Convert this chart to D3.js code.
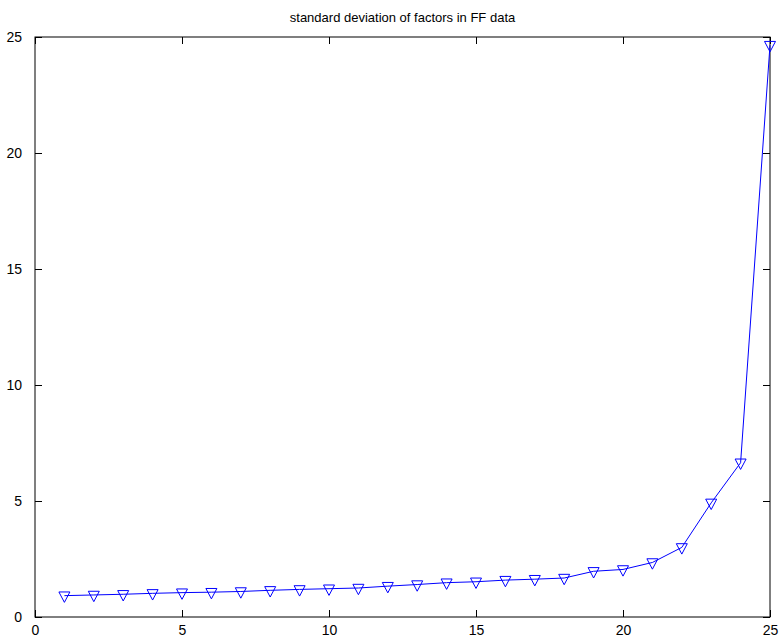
<!DOCTYPE html>
<html>
<head>
<meta charset="utf-8">
<script src="https://cdn.jsdelivr.net/npm/d3@7"></script>
<style>
  body { margin: 0; background: #fff; }
  svg { display: block; font-family: "Liberation Sans", Arial, sans-serif; }
</style>
</head>
<body>
<svg id="chart" width="779" height="638"></svg>
<script>
// factor index and its standard deviation
const factors = d3.range(1, 26);
const stdDev = [0.92, 0.95, 0.98, 1.02, 1.05, 1.07, 1.10, 1.15, 1.19, 1.22,
                1.25, 1.33, 1.40, 1.48, 1.52, 1.59, 1.63, 1.68, 1.97, 2.05,
                2.35, 3.00, 4.92, 6.65, 24.65];
const xTicks = [0, 5, 10, 15, 20, 25];
const yTicks = [0, 5, 10, 15, 20, 25];
const title = "standard deviation of factors in FF data";

const margin = {left: 35, right: 9, top: 37, bottom: 21};
const width = 779, height = 638;

const svg = d3.select("#chart");

const x = d3.scaleLinear().domain([0, 25]).range([margin.left, width - margin.right]);
const y = d3.scaleLinear().domain([0, 25]).range([height - margin.bottom, margin.top]);

// box
svg.append("rect")
    .attr("x", x(0)).attr("y", y(25))
    .attr("width", x(25) - x(0)).attr("height", y(0) - y(25))
    .attr("fill", "none").attr("stroke", "#000").attr("stroke-width", 1);

const tickLen = 7;

// bottom axis (ticks inward) + top ticks
const xAxis = d3.axisBottom(x).tickValues(xTicks).tickSizeInner(-tickLen).tickSizeOuter(0).tickPadding(8);
svg.append("g").attr("transform", `translate(0,${y(0)})`).call(xAxis)
    .call(g => g.select(".domain").remove())
    .call(g => g.selectAll("text").attr("font-size", 14).attr("fill", "#000").attr("font-family", null));
svg.append("g").attr("transform", `translate(0,${y(25)})`)
    .call(d3.axisTop(x).tickValues(xTicks).tickSizeInner(-tickLen).tickSizeOuter(0).tickFormat(""))
    .call(g => g.select(".domain").remove());

// left axis + right ticks
const yAxis = d3.axisLeft(y).tickValues(yTicks).tickSizeInner(-tickLen).tickSizeOuter(0).tickPadding(13);
svg.append("g").attr("transform", `translate(${x(0)},0)`).call(yAxis)
    .call(g => g.select(".domain").remove())
    .call(g => g.selectAll("text").attr("font-size", 14).attr("fill", "#000").attr("font-family", null));
svg.append("g").attr("transform", `translate(${x(25)},0)`)
    .call(d3.axisRight(y).tickValues(yTicks).tickSizeInner(-tickLen).tickSizeOuter(0).tickFormat(""))
    .call(g => g.select(".domain").remove());

svg.selectAll(".tick line").attr("stroke", "#000");

// line
const line = d3.line().x((d, i) => x(factors[i])).y(d => y(d));
svg.append("path")
    .datum(stdDev)
    .attr("d", line)
    .attr("fill", "none")
    .attr("stroke", "#0000ff")
    .attr("stroke-width", 1);

// downward triangle markers
svg.append("g").selectAll("path")
    .data(stdDev)
    .join("path")
    .attr("transform", (d, i) => `translate(${x(factors[i])},${y(d)})`)
    .attr("d", "M-5.5,-3.7L5.5,-3.7L0,6.7Z")
    .attr("fill", "none")
    .attr("stroke", "#0000ff")
    .attr("stroke-width", 1);

// title
svg.append("text")
    .attr("x", (x(0) + x(25)) / 2)
    .attr("y", 22)
    .attr("text-anchor", "middle")
    .attr("font-size", 13)
    .text(title);
</script>
</body>
</html>
